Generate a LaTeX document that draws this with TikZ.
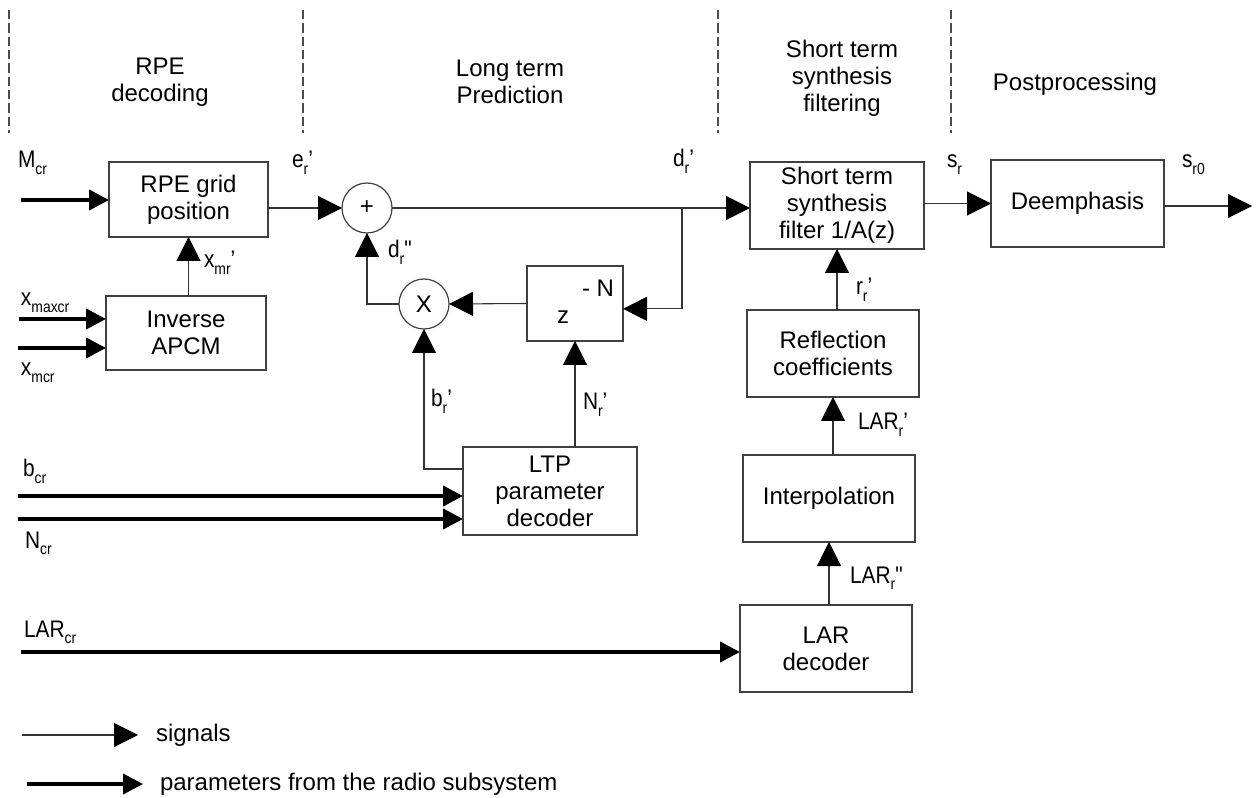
\documentclass[tikz,border=0pt]{standalone}
\usepackage{fontspec}
\setmainfont{Liberation Sans}
\newfontfamily\lblfont[FakeStretch=0.87]{Liberation Sans}
\usetikzlibrary{arrows.meta,calc}
\newcommand\sbs[1]{\raisebox{-0.55ex}{\fontsize{12}{12}\selectfont #1}}
\begin{document}
\begin{tikzpicture}[x=0.75pt,y=-0.75pt,
 every node/.style={inner sep=0pt,outer sep=0pt},
 blk/.style={draw=black!75,line width=0.9pt,font=\fontsize{18}{20.25}\selectfont,align=center},
 ttl/.style={font=\fontsize{18}{20.25}\selectfont,align=center},
 lbl/.style={font=\lblfont\fontsize{18}{20}\selectfont,anchor=base west},
 sig/.style={draw=black!80,line width=0.8pt,-{Triangle[length=18pt,width=18pt,color=black]}},
 par/.style={draw=black,line width=3pt,-{Triangle[length=15pt,width=15pt]}},
 sepline/.style={draw=black!70,line width=0.8pt,dash pattern=on 7pt off 3pt},
 circ/.style={draw=black!75,line width=0.9pt,circle,minimum size=37.5pt,font=\fontsize{18}{20}\selectfont},
 ]
\path[use as bounding box,fill=white] (0,0) rectangle (1257,798);

% separators
\foreach \xx in {9,303,718,951} \draw[sepline] (\xx,10) -- (\xx,133);

% titles
\node[ttl] (t1) at (160,82) {RPE\\decoding};
\node[ttl] (t2) at (510,82) {Long term\\Prediction};
\node[ttl] (t3) at (842,78) {Short term\\synthesis\\filtering};
\node[ttl] (t4) at (1075,84) {Postprocessing};

% blocks
\node[blk,minimum width=119.25pt,minimum height=56.25pt] (rpe) at (188.5,199.5) {RPE grid\\position};
\node[blk,minimum width=120pt,minimum height=55.5pt] (apcm) at (186,333) {Inverse\\APCM};
\node[circ] (plus) at (367,208) {+};
\node[circ] (times) at (424,304) {X};
\node[blk,minimum width=72pt,minimum height=56.25pt] (zbox) at (575,303.5) {};
\node[ttl] (zz) at (563,317) {z};
\node[ttl] (zn) at (598,288) {- N};
\node[blk,minimum width=130.5pt,minimum height=66pt] (ltp) at (550,491) {LTP\\parameter\\decoder};
\node[blk,minimum width=130.5pt,minimum height=65.25pt] (stf) at (837,205.5) {Short term\\synthesis\\filter 1/A(z)};
\node[blk,minimum width=129.75pt,minimum height=65.25pt] (deemph) at (1077.5,203.5) {Deemphasis};
\node[blk,minimum width=129pt,minimum height=65.25pt] (refl) at (833,353.5) {Reflection\\coefficients};
\node[blk,minimum width=129pt,minimum height=65.25pt] (interp) at (829,498.5) {Interpolation};
\node[blk,minimum width=129pt,minimum height=65.25pt] (lardec) at (826,648.5) {LAR\\decoder};

% free ends
\coordinate (mcr) at (21,200);
\coordinate (xmax) at (19,319);
\coordinate (xm) at (18,348);
\coordinate (tap) at (682,208);
\coordinate (bcr) at (18,496);
\coordinate (ncr) at (18,519);
\coordinate (larcr) at (21,652);
\coordinate (out) at (1252,206);

% connectors
\draw[par] (mcr) -- (mcr -| rpe.west);
\draw[par] (xmax) -- (xmax -| apcm.west);
\draw[par] (xm) -- (xm -| apcm.west);
\draw[sig] (rpe.south |- apcm.north) -- (rpe.south);
\draw[sig] (rpe.east |- plus.west) -- (plus.west);
\draw[sig] (plus.east) -- (plus.east -| stf.west);
\draw[sig] (tap) |- ([yshift=-4pt]zbox.east);
\draw[sig] (zbox.west) -- (times.east);
\draw[sig] (times.west) -| (plus.south);
\draw[sig] ($(ltp.north west)+(0,22)$) -| (times.south);
\draw[sig] (zbox.south |- ltp.north) -- (zbox.south);
\draw[par] (bcr) -- (bcr -| ltp.west);
\draw[par] (ncr) -- (ncr -| ltp.west);
\draw[par] (larcr) -- (larcr -| lardec.west);
\draw[sig] (interp.south |- lardec.north) -- (interp.south);
\draw[sig] (refl.south |- interp.north) -- (refl.south);
\draw[sig] (stf.south |- refl.north) -- (stf.south);
\draw[sig] (stf.east |- deemph.west) -- (deemph.west);
\draw[sig] (deemph.east |- out) -- (out);

% labels
\node[lbl] (lmcr) at (18,168) {M\sbs{cr}};
\node[lbl] (ler) at (292,168) {e\sbs{r}’};
\node[lbl] (ldr) at (673,167) {d\sbs{r}’};
\node[lbl] (ldrr) at (388,258) {d\sbs{r}"};
\node[lbl] (lxmr) at (204,268) {x\sbs{mr}’};
\node[lbl] (lxmax) at (21,306) {x\sbs{maxcr}};
\node[lbl] (lxm) at (21,376) {x\sbs{mcr}};
\node[lbl] (lbr) at (431,407) {b\sbs{r}’};
\node[lbl] (lnr) at (583,410) {N\sbs{r}’};
\node[lbl] (lbcr) at (23,477) {b\sbs{cr}};
\node[lbl] (lncr) at (25,548) {N\sbs{cr}};
\node[lbl] (llarcr) at (24,637) {LAR\sbs{cr}};
\node[lbl] (lsr) at (947,168) {s\sbs{r}};
\node[lbl] (lsr0) at (1182,168) {s\sbs{r0}};
\node[lbl] (lrr) at (856,295) {r\sbs{r}’};
\node[lbl] (llarr) at (858,430) {LAR\sbs{r}’};
\node[lbl] (llarrr) at (850,583) {LAR\sbs{r}"};

% legend
\coordinate (ls1) at (22,735);
\coordinate (le1) at (138,735);
\coordinate (ls2) at (27,784);
\coordinate (le2) at (143,784);
\draw[sig] (ls1) -- (le1);
\draw[par] (ls2) -- (le2);
\node[ttl,anchor=west] (lg1) at (156,735) {signals};
\node[ttl,anchor=west] (lg2) at (160,784) {parameters from the radio subsystem};
\end{tikzpicture}
\end{document}
